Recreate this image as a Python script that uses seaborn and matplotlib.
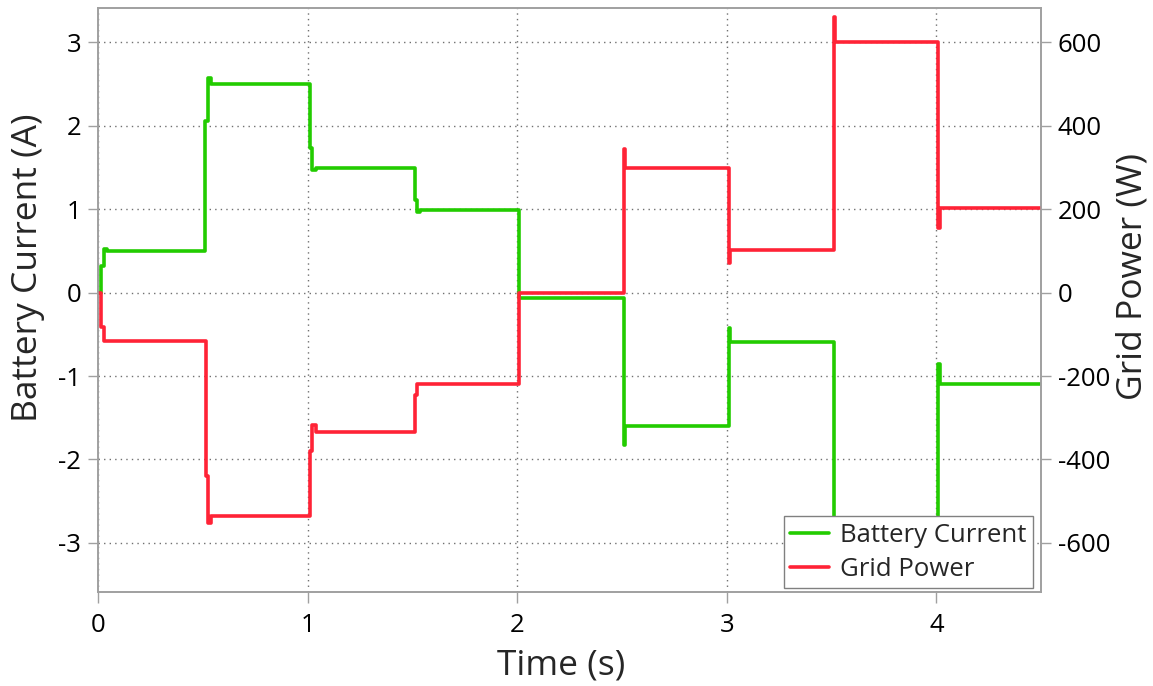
import matplotlib
matplotlib.use("Agg")
import matplotlib.pyplot as plt
from matplotlib.lines import Line2D
import seaborn as sns

# ---- data ----
time_battery = [0.000, 0.015, 0.030, 0.045,
                0.511, 0.524, 0.540,
                1.012, 1.022, 1.040,
                1.512, 1.522, 1.535,
                2.010,
                2.510, 2.515,
                3.010, 3.015,
                3.510,
                4.010, 4.015,
                4.500]
battery_current = [0.00, 0.32, 0.52, 0.50,
                   2.06, 2.57, 2.50,
                   1.73, 1.47, 1.50,
                   1.11, 0.97, 0.99,
                   -0.06,
                   -1.83, -1.60,
                   -0.43, -0.59,
                   -3.10,
                   -0.85, -1.09,
                   -1.09]

time_grid = [0.000, 0.015, 0.030,
             0.513, 0.524, 0.540,
             1.012, 1.022, 1.040,
             1.512, 1.522,
             2.010,
             2.510, 2.515,
             3.010, 3.015,
             3.510, 3.515,
             4.010, 4.015,
             4.500]
grid_power = [0, -82, -117,
              -439, -552, -535,
              -380, -318, -335,
              -245, -218,
              -2,
              345, 300,
              72, 103,
              660, 600,
              154, 202,
              202]

x_ticks = [0, 1, 2, 3, 4]
left_ticks = [-3, -2, -1, 0, 1, 2, 3]
right_ticks = [-600, -400, -200, 0, 200, 400, 600]

GREEN = "#22CC00"
RED = "#FF2336"
SPINE = "#a0a0a0"

sns.set_style("white")
plt.rcParams["font.family"] = ["Open Sans", "DejaVu Sans"]

fig = plt.figure(figsize=(11.53, 6.86), dpi=100)
ax = fig.add_axes([0.085, 0.137, 0.818, 0.851])
ax2 = ax.twinx()

sns.lineplot(x=time_battery, y=battery_current, ax=ax, color=GREEN, lw=2.6,
             drawstyle="steps-post", estimator=None, sort=False, legend=False)
sns.lineplot(x=time_grid, y=grid_power, ax=ax2, color=RED, lw=2.6,
             drawstyle="steps-post", estimator=None, sort=False, legend=False)

ax.set_xlim(0, 4.5)
ax.set_ylim(-3.59, 3.41)
ax2.set_ylim(-718, 682)
ax.set_xticks(x_ticks)
ax.set_yticks(left_ticks)
ax2.set_yticks(right_ticks)
ax.set_xticklabels([str(v) for v in x_ticks])
ax.set_yticklabels([str(v) for v in left_ticks])
ax2.set_yticklabels([str(v) for v in right_ticks])

ax.grid(True, linestyle=(0, (1, 3)), color="#707070", lw=1.0)
ax.set_axisbelow(True)

for a in (ax, ax2):
    for s in a.spines.values():
        s.set_color(SPINE)
        s.set_linewidth(1.2)
    a.tick_params(colors=SPINE, labelcolor="black", labelsize=18.5,
                  direction="out", length=7, width=1.0, pad=5)
ax.tick_params(axis="x", pad=7, length=8)
ax.tick_params(axis="y", left=True, right=False)
ax.tick_params(axis="x", bottom=True)
ax2.tick_params(axis="y", right=True, left=False)

ax.set_xlabel("Time (s)", fontsize=25.5)
ax.set_ylabel("Battery Current (A)", fontsize=25.5)
ax2.set_ylabel("Grid Power (W)", fontsize=25.5)
ax.xaxis.set_label_coords(0.491, -0.097)
ax.yaxis.set_label_coords(-0.056, 0.555)
ax2.yaxis.set_label_coords(1.0785, 0.54)

handles = [Line2D([0], [0], color=GREEN, lw=2.6),
           Line2D([0], [0], color=RED, lw=2.6)]
leg = ax2.legend(handles, ["Battery Current", "Grid Power"], loc="lower right",
                 bbox_to_anchor=(1 - 8 / 943, 4 / 584), borderaxespad=0,
                 frameon=True, fancybox=False, framealpha=1, edgecolor="#808080",
                 fontsize=18.5, handlelength=1.5, handletextpad=0.45,
                 borderpad=0.25, labelspacing=0.35)
leg.get_frame().set_linewidth(1.0)

fig.savefig("out.png", dpi=100)
